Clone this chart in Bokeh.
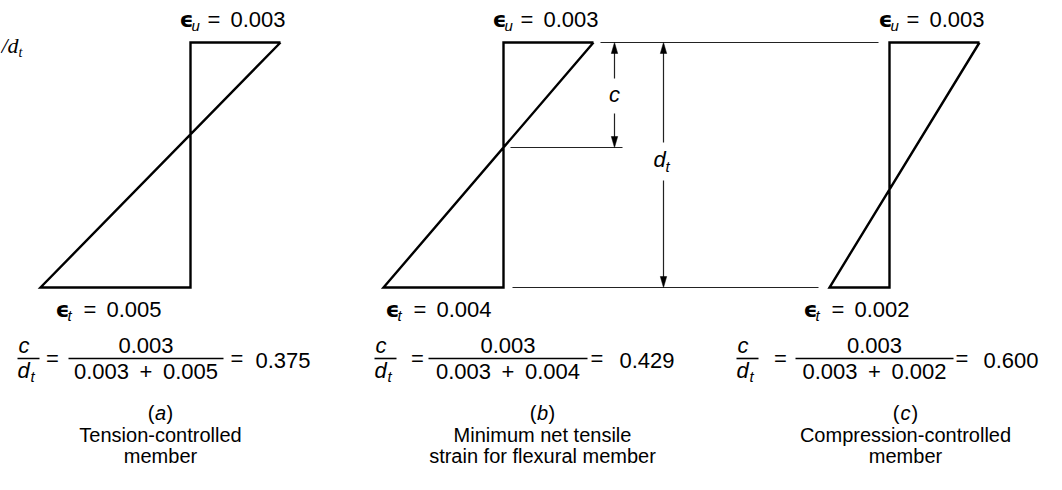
from bokeh.plotting import figure
from bokeh.models import Range1d
from bokeh.core.properties import value
from bokeh.embed import file_html
from bokeh.resources import INLINE

# ---------------- data ----------------
panels = ["a", "b", "c"]
eps_u = [0.003, 0.003, 0.003]          # concrete crushing strain at top
eps_t = [0.005, 0.004, 0.002]          # net tensile strain at extreme steel
captions = [["Tension-controlled", "member"],
            ["Minimum net tensile", "strain for flexural member"],
            ["Compression-controlled", "member"]]

# ---------------- layout ----------------
W, H = 1046, 474
axis_x = [190, 503, 889]          # x of the zero-strain line of each diagram
y_top, y_bot = 42, 287            # top fibre / level of tension steel
k = 30000.0                       # px per unit strain
FONT = "Liberation Sans"
EPSF = "DejaVu Sans"
FS = 22      # math / label text
CS = 20      # caption text
SUB = 15

top_eps_x = [ax - 11 for ax in axis_x]
bot_eps_x = [55, 385, 803]
frac_x = [18, 375, 737]
eq1_cx = [52, 417, 780]
bar_x = [(68, 223), (428, 587), (795, 953)]
eq2_x = [230, 590, 955]
res_x = [255, 619, 983]
cap_cx = [160, 542, 905]

p = figure(width=W, height=H, x_range=Range1d(0, W), y_range=Range1d(H, 0),
           output_backend="svg", toolbar_location=None, min_border=0,
           x_axis_type=None, y_axis_type=None)
p.grid.visible = False
p.outline_line_color = None
p.background_fill_color = "white"
p.border_fill_color = "white"


def txt(x, y, s, size=FS, font=FONT, style="normal", align="left", color="black"):
    # y is the wanted alphabetic baseline; compensate the renderer's baseline offset
    yy = y - 0.38 * size
    p.text(x=[x], y=[yy], text=[s], text_font=value(font), text_font_size=value(f"{size}px"),
           text_font_style=style, text_align=align, text_baseline="alphabetic",
           text_color=color)


def arrowhead(x, tip, direction):
    # direction: -1 pointing up (tip above), +1 pointing down
    L, hw = 11, 3.2
    base = tip - direction * L
    p.patch([x, x - hw, x + hw], [tip, base, base], fill_color="black",
            line_color="black", line_width=0.5)


yc = []
for i in range(3):
    x0 = axis_x[i]
    xr = x0 + eps_u[i] * k
    xl = x0 - eps_t[i] * k
    yc.append(y_top + (y_bot - y_top) * eps_u[i] / (eps_u[i] + eps_t[i]))
    p.line([xr, x0, x0, xl, xr], [y_top, y_top, y_bot, y_bot, y_top],
           line_width=2.4, line_color="black", line_join="miter")

# ---- dimension lines on diagram (b) ----
xr_b = axis_x[1] + eps_u[1] * k
xl_c = axis_x[2] - eps_t[2] * k
dim_col = "#222222"
p.line([xr_b + 7, axis_x[2] - 11], [y_top, y_top], line_width=1.2, line_color=dim_col)
p.line([axis_x[1] + 9, xl_c - 11], [y_bot, y_bot], line_width=1.2, line_color=dim_col)
p.line([axis_x[1] + 7, 622], [yc[1], yc[1]], line_width=1.2, line_color=dim_col)

cx_arrow, dt_arrow = 614, 663
p.line([cx_arrow, cx_arrow], [y_top + 4, 78], line_width=1.2, line_color=dim_col)
p.line([cx_arrow, cx_arrow], [113, yc[1] - 4], line_width=1.2, line_color=dim_col)
arrowhead(cx_arrow, y_top, -1)
arrowhead(cx_arrow, yc[1], 1)
txt(cx_arrow, 102, "c", style="italic", align="center")

p.line([dt_arrow, dt_arrow], [y_top + 4, 142], line_width=1.2, line_color=dim_col)
p.line([dt_arrow, dt_arrow], [180, y_bot - 4], line_width=1.2, line_color=dim_col)
arrowhead(dt_arrow, y_top, -1)
arrowhead(dt_arrow, y_bot, 1)
txt(dt_arrow - 4, 167, "d", style="italic", align="center")
txt(dt_arrow + 2, 172, "t", size=SUB, style="italic")

# ---- fragment of a label at the left edge ----
txt(1, 53, "/d", size=22, font="Liberation Serif", style="italic")
txt(18, 57, "t", size=14, font="Liberation Serif", style="italic")

# ---- strain labels and ratio equations ----
for i in range(3):
    # top: eps_u = 0.003
    ex = top_eps_x[i]
    txt(ex, 27, "\u03f5", font=EPSF, style="bold")
    txt(ex + 12, 31, "u", size=SUB, style="italic")
    txt(ex + 28, 27, "=")
    txt(ex + 51, 27, f"{eps_u[i]:.3f}")

    # bottom: eps_t = ...
    bx = bot_eps_x[i]
    txt(bx, 317, "\u03f5", font=EPSF, style="bold")
    txt(bx + 12, 321, "t", size=SUB, style="italic")
    txt(bx + 28, 317, "=")
    txt(bx + 51, 317, f"{eps_t[i]:.3f}")

    # c / d_t = eu / (eu + et) = ratio
    fx = frac_x[i]
    txt(fx, 353, "c", style="italic")
    p.line([fx - 1, fx + 21], [358, 358], line_width=1.6, line_color="black")
    txt(fx - 1, 378, "d", style="italic")
    txt(fx + 12, 382, "t", size=SUB, style="italic")
    txt(eq1_cx[i], 366, "=", align="center")
    b0, b1 = bar_x[i]
    p.line([b0, b1], [358, 358], line_width=1.6, line_color="black")
    bc = (b0 + b1) / 2
    txt(bc, 353, f"{eps_u[i]:.3f}", align="center")
    txt(bc - 17, 379, f"{eps_u[i]:.3f}", align="right")
    txt(bc, 379, "+", align="center")
    txt(bc + 17, 379, f"{eps_t[i]:.3f}")
    txt(eq2_x[i], 366, "=")
    ratio = eps_u[i] / (eps_u[i] + eps_t[i])
    txt(res_x[i], 368, f"{ratio:.3f}")

    # captions
    cc = cap_cx[i]
    txt(cc - 6, 420, "(", size=CS, align="right")
    txt(cc, 420, panels[i], size=CS, style="italic", align="center")
    txt(cc + 6, 420, ")", size=CS)
    txt(cc, 442, captions[i][0], size=CS, align="center")
    txt(cc, 463, captions[i][1], size=CS, align="center")

open("out.html", "w").write(file_html(p, INLINE))
